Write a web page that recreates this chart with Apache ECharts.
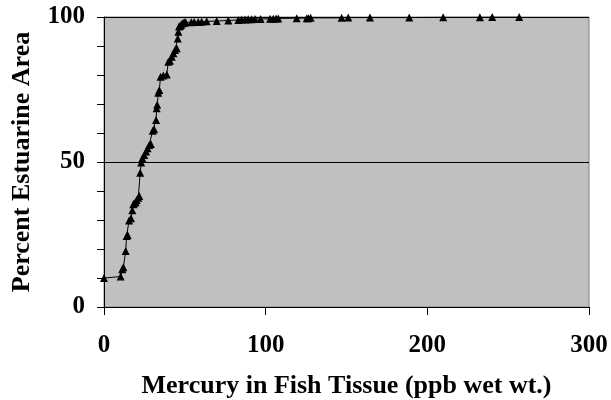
<!DOCTYPE html>
<html>
<head>
<meta charset="utf-8">
<script src="https://cdn.jsdelivr.net/npm/echarts@6/dist/echarts.min.js"></script>
<style>
  html, body { margin: 0; padding: 0; background: #fff; }
  #chart { width: 611px; height: 400px; }
</style>
</head>
<body>
<div id="chart"></div>
<script>
// mercury in fish tissue (ppb wet wt.)
var mercury = [0, 10.3, 11.3, 12, 13.4, 14, 14.6, 15.5, 16.7, 17.5, 18.1, 18.7, 19.6, 20.2, 21.2, 21.8,
    22.4, 23, 23.7, 24.9, 26, 27, 28, 29, 30.1, 31, 32.2, 32.6, 32.9, 33.6, 34.2, 35, 36.7, 38.8,
    39.8, 40.8, 41.9, 42.9, 43.9, 45, 45.6, 46, 46.4, 47, 47.6, 48.4, 49, 49.7, 50.5, 54, 55.8,
    58.3, 60.4, 63.5, 69.7, 76.9, 83.1, 85.1, 87.2, 89.2, 91.3, 93.4, 96.9, 102.7, 104.7, 106.4,
    107.8, 119.2, 125.4, 126.4, 127.8, 147, 151.1, 164.5, 188.8, 209.8, 232.5, 240.1, 256.8];
// cumulative percent of estuarine area
var percentArea = [10, 10.5, 13, 13.7, 19.3, 24.5, 24.8, 29.8, 30.6, 33.4, 35.4, 35.8, 36.1, 36.9,
    37.7, 38.3, 46.3, 49.8, 51.3, 52.4, 53.6, 54.7, 55.9, 56.2, 60.8, 61.3, 64.5, 68.5, 69.7, 73.9,
    74.8, 79.4, 79.8, 80.2, 84.6, 84.9, 86.3, 87.5, 88.6, 89.2, 92.6, 94.9, 96.7, 96.9, 97.2, 97.8,
    97.9, 98.1, 98.2, 98.2, 98.3, 98.3, 98.4, 98.5, 98.6, 98.8, 99, 99.1, 99.1, 99.2, 99.2, 99.3,
    99.3, 99.4, 99.4, 99.5, 99.5, 99.6, 99.6, 99.6, 99.7, 99.7, 99.8, 99.8, 99.8, 99.9, 99.9, 100, 100];
var yLabels = [0, 50, 100];
var xTitle = 'Mercury in Fish Tissue (ppb wet wt.)';
var yTitle = 'Percent Estuarine Area';

var points = [];
for (var i = 0; i < mercury.length; i++) {
    points.push([mercury[i], percentArea[i]]);
}

var font = 'Liberation Serif';
var myChart = echarts.init(document.getElementById('chart'), null, { renderer: 'canvas' });

myChart.setOption({
    animation: false,
    backgroundColor: '#ffffff',
    grid: {
        left: 104, right: 22, top: 17, bottom: 93,
        outerBoundsMode: 'none',
        containLabel: false,
        show: true,
        backgroundColor: '#c0c0c0',
        borderColor: '#808080',
        borderWidth: 1
    },
    xAxis: {
        type: 'value',
        min: 0, max: 300, interval: 100,
        name: xTitle,
        nameLocation: 'middle',
        nameGap: 66,
        nameTextStyle: { fontFamily: font, fontWeight: 'bold', fontSize: 26, color: '#000' },
        axisLine: { show: true, lineStyle: { color: '#000', width: 1 } },
        axisTick: { show: true, inside: false, length: 8, lineStyle: { color: '#000' } },
        axisLabel: { margin: 26, fontFamily: font, fontWeight: 'bold', fontSize: 25, color: '#000' },
        splitLine: { show: false }
    },
    yAxis: [{
        type: 'value',
        min: 0, max: 100, interval: 10,
        name: yTitle,
        nameLocation: 'middle',
        nameGap: 69,
        nameTextStyle: { fontFamily: font, fontWeight: 'bold', fontSize: 26, color: '#000' },
        axisLine: { show: true, lineStyle: { color: '#000', width: 1 } },
        axisTick: { show: true, inside: false, length: 7, lineStyle: { color: '#000' } },
        axisLabel: {
            margin: 19, fontFamily: font, fontWeight: 'bold', fontSize: 25, color: '#000',
            formatter: function (v) { return yLabels.indexOf(v) >= 0 ? String(v) : ''; }
        },
        splitLine: { show: false }
    }, {
        type: 'value',
        min: 0, max: 100, interval: 50,
        position: 'left',
        axisLine: { show: false },
        axisTick: { show: false },
        axisLabel: { show: false },
        splitLine: { show: true, lineStyle: { color: '#000', width: 1 } }
    }],
    series: [{
        type: 'line',
        data: points,
        symbol: 'triangle',
        symbolSize: 8,
        showAllSymbol: true,
        itemStyle: { color: '#000' },
        lineStyle: { color: '#000', width: 1 },
        z: 5
    }]
});
</script>
</body>
</html>
